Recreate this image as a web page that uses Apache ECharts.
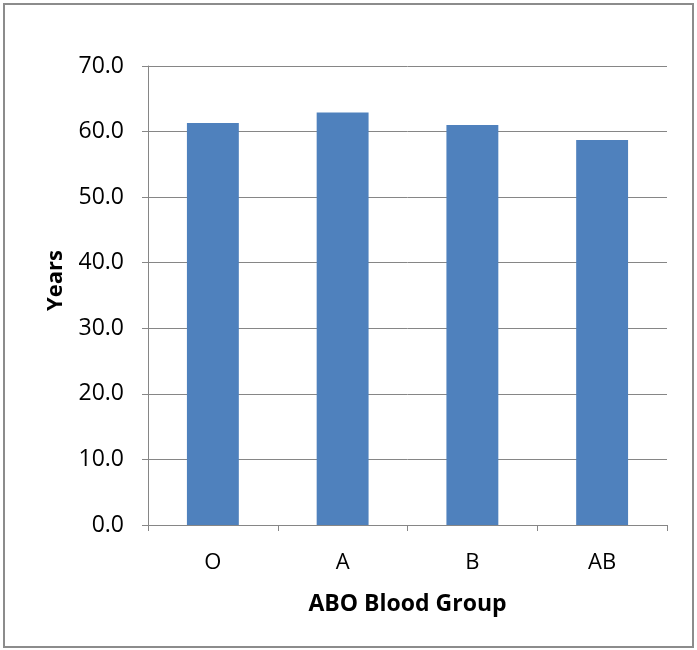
<!DOCTYPE html>
<html><head><meta charset="utf-8">
<script src="https://cdn.jsdelivr.net/npm/echarts@6/dist/echarts.min.js"></script>
<style>html,body{margin:0;padding:0;background:#fff}#c{width:697px;height:650px}</style>
</head><body><div id="c"></div>
<script>
const categories = ['O', 'A', 'B', 'AB'];
const values = [61.3, 62.9, 61.0, 58.7];
const yTicks = { min: 0, max: 70, interval: 10 };

const chart = echarts.init(document.getElementById('c'), null, { renderer: 'canvas' });
const font = '"Open Sans", "Liberation Sans", sans-serif';
chart.setOption({
  animation: false,
  backgroundColor: '#fff',
  graphic: [{
    type: 'rect', shape: { x: 4, y: 4, width: 689, height: 643 },
    style: { fill: 'none', stroke: '#8c8c8c', lineWidth: 2 }, silent: true
  }],
  grid: { left: 148, right: 30, top: 66, bottom: 125, containLabel: false },
  xAxis: {
    type: 'category', data: categories,
    name: 'ABO Blood Group', nameLocation: 'middle', nameGap: 68,
    nameTextStyle: { fontFamily: font, fontWeight: 'bold', fontSize: 23, color: '#000' },
    axisLine: { lineStyle: { color: '#868686', width: 1 } },
    axisTick: { show: true, alignWithLabel: false, length: 6, lineStyle: { color: '#868686' } },
    axisLabel: { fontFamily: font, fontSize: 22, color: '#000', margin: 27 },
    splitLine: { show: false }
  },
  yAxis: {
    type: 'value', min: yTicks.min, max: yTicks.max, interval: yTicks.interval,
    name: 'Years', nameLocation: 'middle', nameGap: 81, nameRotate: 90,
    nameTextStyle: { fontFamily: font, fontWeight: 'bold', fontSize: 22, color: '#000', padding: [0, 0, 0, 30] },
    axisLine: { show: true, lineStyle: { color: '#868686', width: 1 } },
    axisTick: { show: true, length: 6, lineStyle: { color: '#868686' } },
    axisLabel: { fontFamily: font, fontSize: 23, color: '#000', margin: 24, formatter: v => v.toFixed(1) },
    splitLine: { show: true, lineStyle: { color: '#868686', width: 1 } }
  },
  series: [{
    type: 'bar', data: values, barWidth: '40%',
    itemStyle: { color: '#4f81bd' }
  }]
});
</script></body></html>
